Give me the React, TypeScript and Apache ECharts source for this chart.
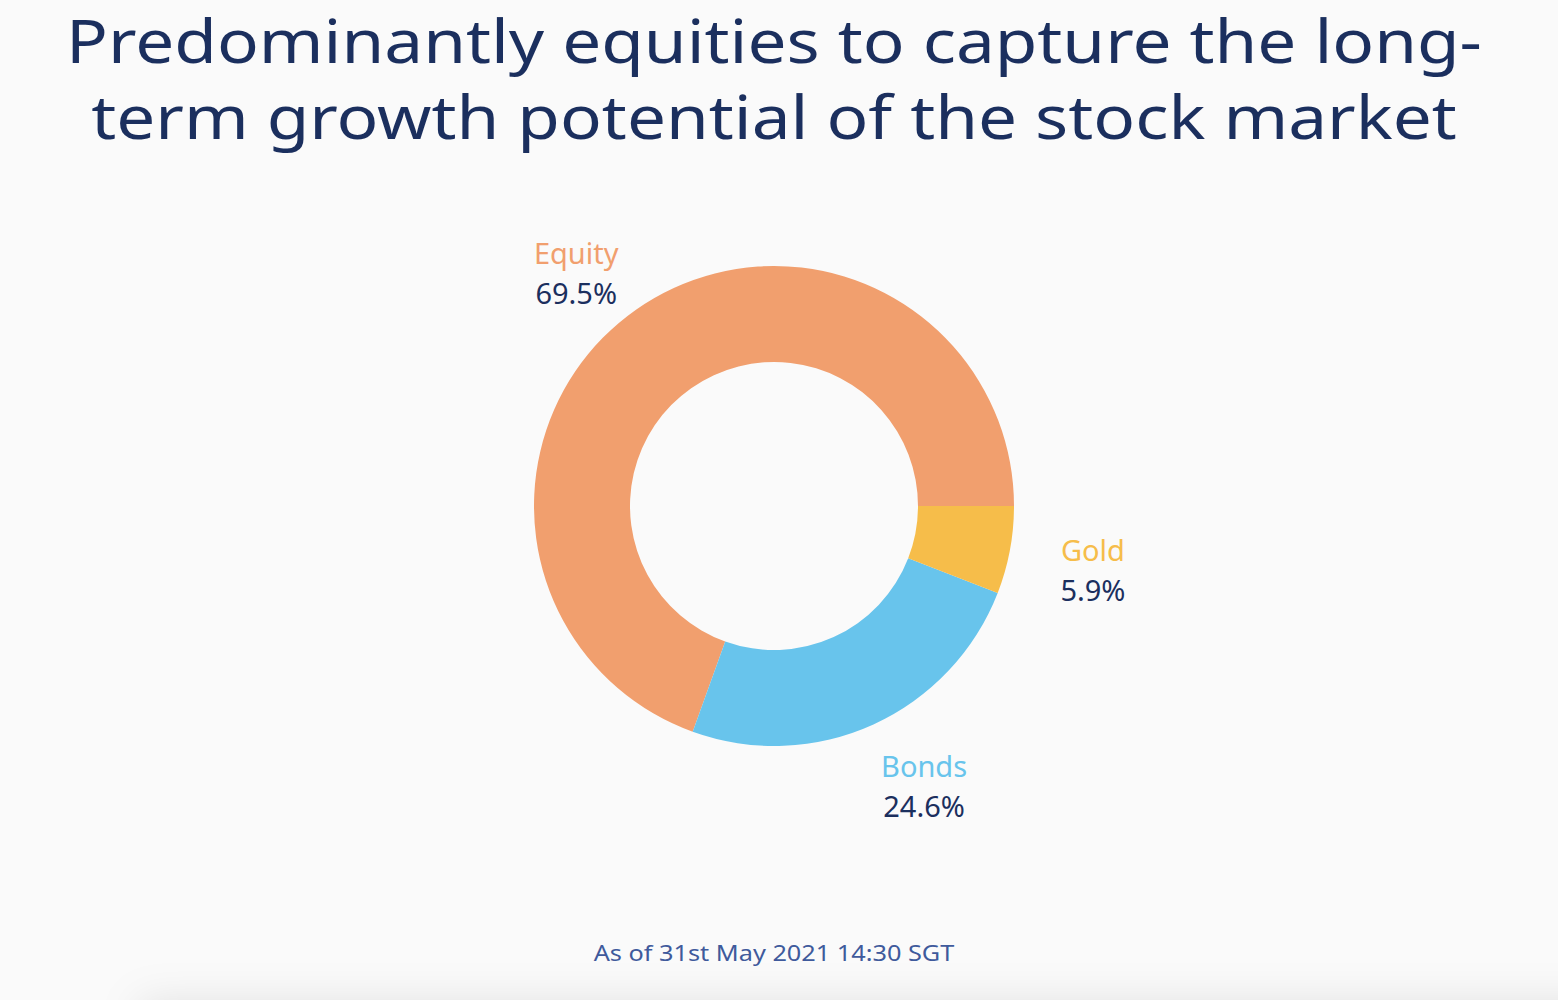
import React, { useEffect, useRef } from "react";
import * as echarts from "echarts";

const titleLines = [
  "Predominantly equities to capture the long-",
  "term growth potential of the stock market",
];
const footnote = "As of 31st May 2021 14:30 SGT";
const categories = ["Equity", "Bonds", "Gold"];
const values = [69.5, 24.6, 5.9];
const colors = ["#f19f6e", "#68c4ec", "#f6bd4a"];

const NAVY = "#1b2f5e";
const BG = "#fafafa";

export default function App() {
  const ref = useRef<HTMLDivElement>(null);

  useEffect(() => {
    document.body.style.margin = "0";
    document.body.style.background = BG;
    const chart = echarts.init(ref.current!, undefined, { renderer: "svg" });

    const cx = 774;
    const cy = 506;
    const outerR = 240;
    const innerR = 144;
    const labelDist = 57;
    const shiftX = 27;
    const shiftY = 9;
    const total = values.reduce((a, b) => a + b, 0);
    const mids: number[] = [];
    let acc = 0;
    values.forEach((v) => {
      mids.push(((acc + v / 2) / total) * Math.PI * 2);
      acc += v;
    });

    const data = categories.map((name, i) => ({
      name,
      value: values[i],
      itemStyle: { color: colors[i] },
      label: { rich: { n: { color: colors[i] } } },
    }));

    const titleTexts = titleLines.map((line, i) => ({
      type: "text",
      x: 774,
      y: 40 + i * 76,
      scaleX: 1.155,
      style: {
        text: line,
        fill: NAVY,
        font: '400 60px "Noto Sans"',
        lineHeight: 64,
        align: "center",
        verticalAlign: "middle",
      },
    }));

    chart.setOption({
      animation: false,
      backgroundColor: BG,
      graphic: [
        {
          type: "rect",
          shape: { x: 140, y: 1010, width: 1500, height: 60 },
          style: {
            fill: "#f2f2f2",
            shadowBlur: 40,
            shadowColor: "rgba(0,0,0,0.10)",
            shadowOffsetY: -8,
          },
          silent: true,
        },
        ...titleTexts,
        {
          type: "text",
          x: 774,
          y: 953,
          scaleX: 1.15,
          style: {
            text: footnote,
            fill: "#3f5a9c",
            font: '400 22px "Noto Sans"',
            align: "center",
            verticalAlign: "middle",
          },
        },
      ],
      series: [
        {
          type: "pie",
          center: [cx, cy],
          radius: [innerR, outerR],
          startAngle: 0,
          clockwise: false,
          avoidLabelOverlap: false,
          itemStyle: { borderWidth: 0 },
          emphasis: { disabled: true },
          labelLine: { show: false },
          label: {
            show: true,
            position: "outside",
            formatter: "{n|{b}}\n{v|{c}%}",
            rich: {
              n: {
                fontSize: 29,
                fontFamily: "Noto Sans",
                lineHeight: 40,
                align: "center",
              },
              v: {
                fontSize: 29,
                fontFamily: "Noto Sans",
                color: NAVY,
                lineHeight: 40,
                align: "center",
              },
            },
          },
          labelLayout: (params: any) => {
            const a = mids[params.dataIndex];
            const r = outerR + labelDist;
            const c = Math.cos(a);
            const s = Math.sin(a);
            const ax = cx + c * r;
            const ay = cy - s * r;
            return {
              x: ax + (c >= 0 ? 1 : -1) * shiftX,
              y: ay + shiftY,
              align: "center",
              verticalAlign: "middle",
            };
          },
          data,
        },
      ],
    });

    return () => chart.dispose();
  }, []);

  return <div ref={ref} style={{ width: 1558, height: 1000 }} />;
}
